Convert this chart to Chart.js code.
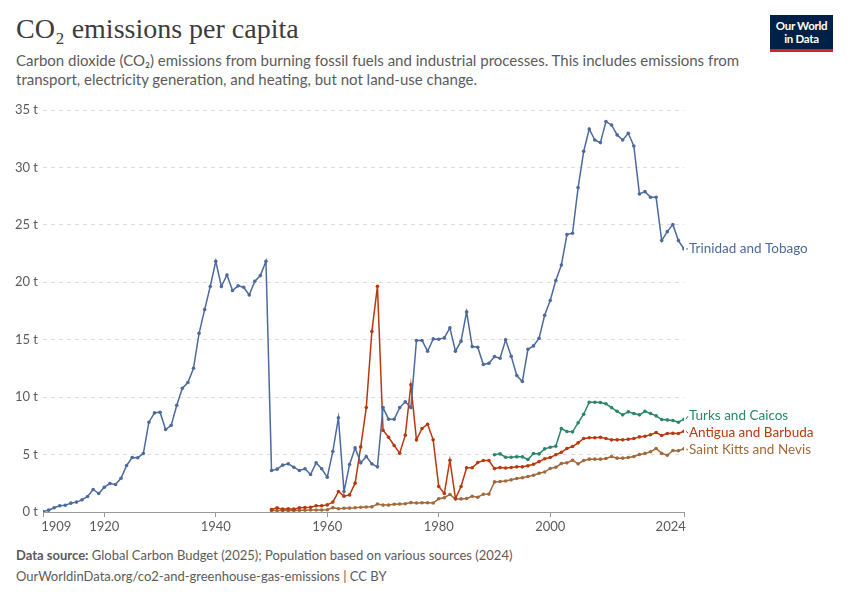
<!DOCTYPE html>
<html>
<head>
<meta charset="utf-8">
<script src="https://cdn.jsdelivr.net/npm/chart.js@4/dist/chart.umd.min.js"></script>
<style>
  body { margin: 0; background: #fff; width: 850px; height: 600px; position: relative; overflow: hidden; font-family: Lato, sans-serif; }
  #title { position: absolute; left: 16px; top: 13px; font-family: "Liberation Serif", serif; font-size: 28px; color: #3c3c3c; margin: 0; font-weight: normal; }
  #subtitle { position: absolute; left: 16px; top: 51px; width: 740px; font-size: 15px; line-height: 19px; color: #5b5b5b; margin: 0; }
  #logo { position: absolute; left: 770px; top: 15px; width: 63px; background: #002147; border-bottom: 3px solid #ce261e; color: #fff; font-weight: bold; font-size: 11.5px; line-height: 13px; text-align: center; padding-top: 4px; box-sizing: content-box; height: 30px; letter-spacing: -0.3px; }
  #wrap { position: absolute; left: 0; top: 95px; width: 850px; height: 440px; }
  .foot { position: absolute; left: 16px; font-size: 13px; color: #5b5b5b; margin: 0; }
</style>
</head>
<body>
<h1 id="title">CO₂ emissions per capita</h1>
<p id="subtitle">Carbon dioxide (CO₂) emissions from burning fossil fuels and industrial processes. This includes emissions from transport, electricity generation, and heating, but not land-use change.</p>
<div id="logo">Our World<br>in Data</div>
<div id="wrap"><canvas id="chart" width="850" height="440"></canvas></div>
<p class="foot" style="top:547px"><b>Data source:</b> Global Carbon Budget (2025); Population based on various sources (2024)</p>
<p class="foot" style="top:568px">OurWorldinData.org/co2-and-greenhouse-gas-emissions | CC BY</p>
<script>
// values in tonnes per person, one per year from the start year
const ttStart = 1909;
const trinidad = [
  0.05, 0.16, 0.37, 0.54, 0.59, 0.77, 0.86, 1.06, 1.35, 1.96, // 1909-1918
  1.61, 2.16, 2.48, 2.39, 2.94, 4.05, 4.74, 4.72, 5.09, 7.82, // 1919-1928
  8.63, 8.69, 7.18, 7.55, 9.29, 10.78, 11.27, 12.52, 15.56, 17.62, // 1929-1938
  19.63, 21.83, 19.63, 20.64, 19.28, 19.69, 19.57, 18.9, 20.09, 20.58, // 1939-1948
  21.83, 3.61, 3.73, 4.08, 4.19, 3.9, 3.61, 3.76, 3.26, 4.28, // 1949-1958
  3.76, 3.03, 5.27, 8.2, 1.78, 4.13, 5.58, 4.28, 4.83, 4.19, // 1959-1968
  3.93, 9.09, 8.08, 8.08, 9.09, 9.59, 9.09, 14.93, 14.93, 14.0, // 1969-1978
  15.07, 15.04, 15.16, 16.03, 14.0, 14.87, 17.42, 14.4, 14.34, 12.84, // 1979-1988
  12.95, 13.53, 13.39, 14.99, 13.56, 11.88, 11.36, 14.17, 14.46, 15.13, // 1989-1998
  17.13, 18.41, 20.15, 21.51, 24.15, 24.27, 28.24, 31.4, 33.35, 32.39, // 1999-2008
  32.16, 33.99, 33.7, 32.83, 32.39, 32.97, 31.87, 27.69, 27.89, 27.4, // 2009-2018
  27.4, 23.63, 24.41, 25.02, 23.63, 22.9 // 2019-2024
];

const tcStart = 1990;
const turksCaicos = [
  4.98, 5.06, 4.77, 4.77, 4.8, 4.8, 4.57, 5.09, 5.06, 5.5,
  5.64, 5.73, 7.27, 7.01, 6.98, 7.76, 8.51, 9.56, 9.56, 9.53,
  9.42, 9.09, 8.77, 8.46, 8.72, 8.57, 8.46, 8.77, 8.57, 8.37,
  8.05, 8.02, 7.96, 7.82, 8.08
];

const abStart = 1950;
const antigua = [
  0.22, 0.36, 0.25, 0.28, 0.25, 0.36, 0.39, 0.42, 0.54, 0.54,
  0.62, 0.86, 1.78, 1.38, 1.49, 2.51, 5.67, 9.09, 15.71, 19.65,
  7.12, 6.51, 5.79, 5.12, 6.69, 11.07, 6.28, 7.27, 7.64, 6.28,
  2.22, 1.61, 4.51, 1.17, 2.22, 3.85, 3.85, 4.3, 4.48, 4.48,
  3.78, 3.87, 3.83, 3.87, 3.93, 3.93, 4.02, 4.16, 4.39, 4.63,
  4.74, 4.98, 5.2, 5.53, 5.7, 6.02, 6.4, 6.46, 6.46, 6.51,
  6.4, 6.28, 6.28, 6.28, 6.34, 6.4, 6.54, 6.6, 6.72, 6.92,
  6.66, 6.83, 6.86, 6.83, 7.03
];

const knStart = 1950;
const saintKitts = [
  0.12, 0.13, 0.13, 0.14, 0.14, 0.15, 0.16, 0.17, 0.17, 0.18,
  0.2, 0.38, 0.28, 0.32, 0.34, 0.37, 0.42, 0.44, 0.45, 0.7,
  0.6, 0.6, 0.68, 0.7, 0.72, 0.82, 0.78, 0.8, 0.8, 0.78,
  1.15, 1.24, 1.53, 1.13, 1.14, 1.17, 1.37, 1.29, 1.55, 1.56,
  2.62, 2.65, 2.7, 2.8, 2.92, 2.98, 3.09, 3.2, 3.38, 3.48,
  3.79, 3.9, 4.22, 4.28, 4.51, 4.19, 4.48, 4.6, 4.6, 4.6,
  4.66, 4.83, 4.69, 4.69, 4.74, 4.83, 5.0, 5.1, 5.24, 5.53,
  5.1, 4.94, 5.35, 5.33, 5.5
];

const xTicks = [1909, 1920, 1940, 1960, 1980, 2000, 2024];
const yTicks = [0, 5, 10, 15, 20, 25, 30, 35];

const names = ["Trinidad and Tobago", "Turks and Caicos", "Antigua and Barbuda", "Saint Kitts and Nevis"];
const colors = ["#4C6A9C", "#2A8765", "#B8390D", "#A2693A"];

function toPoints(start, vals) {
  return vals.map((v, i) => ({ x: start + i, y: v }));
}

const series = [
  toPoints(ttStart, trinidad),
  toPoints(tcStart, turksCaicos),
  toPoints(abStart, antigua),
  toPoints(knStart, saintKitts)
];

// labels at the right end of each line, pushed apart when they collide
const endLabels = {
  id: "endLabels",
  afterDatasetsDraw(chart) {
    const ctx = chart.ctx;
    const xs = chart.scales.x, ys = chart.scales.y;
    let items = chart.data.datasets.map((ds, i) => {
      const last = ds.data[ds.data.length - 1];
      return { i, px: xs.getPixelForValue(last.x), py: ys.getPixelForValue(last.y), ly: ys.getPixelForValue(last.y) };
    });
    items.sort((a, b) => a.ly - b.ly);
    const minGap = 17;
    for (let k = 0; k < 20; k++) {
      for (let j = 1; j < items.length; j++) {
        const gap = items[j].ly - items[j - 1].ly;
        if (gap < minGap) {
          const d = (minGap - gap) / 2;
          items[j - 1].ly -= d;
          items[j].ly += d;
        }
      }
    }
    ctx.save();
    ctx.font = "13.5px Lato";
    ctx.textBaseline = "middle";
    items.forEach(it => {
      const c = colors[it.i];
      ctx.strokeStyle = c;
      ctx.lineWidth = 1;
      ctx.beginPath();
      ctx.moveTo(it.px + 2, it.py);
      ctx.lineTo(it.px + 4, it.ly);
      ctx.stroke();
      ctx.fillStyle = c;
      ctx.fillText(names[it.i], it.px + 5, it.ly);
    });
    ctx.restore();
  }
};

new Chart(document.getElementById("chart"), {
  type: "line",
  data: {
    datasets: series.map((pts, i) => ({
      label: names[i],
      data: pts,
      borderColor: colors[i],
      backgroundColor: colors[i],
      borderWidth: 1.5,
      pointRadius: 1.8,
      pointHoverRadius: 1.8,
      pointBorderWidth: 0,
      tension: 0
    }))
  },
  plugins: [endLabels],
  options: {
    responsive: false,
    animation: false,
    layout: { padding: { left: 0, right: 166, top: 15, bottom: 0 } },
    plugins: { legend: { display: false }, tooltip: { enabled: false } },
    scales: {
      x: {
        type: "linear",
        min: 1909,
        max: 2024,
        afterBuildTicks: s => { s.ticks = xTicks.map(v => ({ value: v })); },
        afterFit: s => { s.height = 23; },
        grid: { drawOnChartArea: false, drawTicks: true, tickLength: 5, color: "#999" },
        border: { display: true, color: "#999" },
        ticks: {
          color: "#5b5b5b",
          font: { family: "Lato", size: 13 },
          padding: 2,
          maxRotation: 0,
          autoSkip: false,
          // first and last year sit beside their tick, not centred on it
          callback: v => v === 1909 ? "        1909" : v === 2024 ? "2024        " : String(v)
        }
      },
      y: {
        min: 0,
        max: 35,
        afterBuildTicks: s => { s.ticks = yTicks.map(v => ({ value: v })); },
        afterFit: s => { s.width = 43; },
        grid: { color: "#dddddd", drawTicks: false },
        border: { display: false, dash: [4, 4] },
        ticks: {
          color: "#5b5b5b",
          font: { family: "Lato", size: 13 },
          padding: 5,
          callback: v => v + " t"
        }
      }
    }
  }
});
</script>
</body>
</html>
